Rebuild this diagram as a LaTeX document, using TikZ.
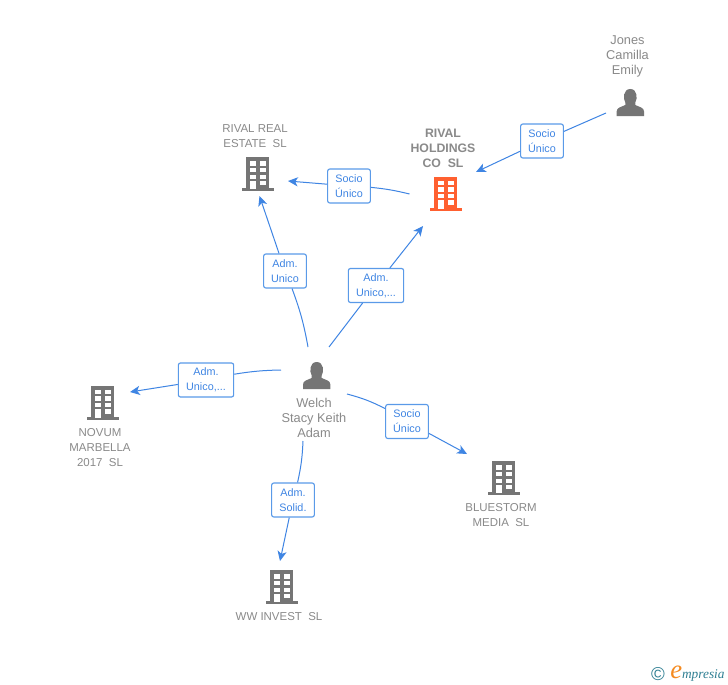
\documentclass[tikz,border=0pt]{standalone}
\usepackage{fontspec}
\setmainfont{Liberation Sans}
\newfontfamily\logofont{Liberation Serif}
\usetikzlibrary{arrows.meta}
\usetikzlibrary{positioning}
\definecolor{linkblue}{HTML}{3F85E3}
\definecolor{boxblue}{HTML}{5A9AE8}
\definecolor{textgray}{HTML}{8A8A8A}
\definecolor{icongray}{HTML}{757575}
\definecolor{rivalred}{HTML}{FF6030}
\definecolor{logoteal}{HTML}{2F7F93}
\definecolor{logoorange}{HTML}{F58A1F}
\tikzset{>={Stealth[length=2.6mm,width=2.4mm,inset=0.7mm]}}
\tikzset{
    namelabel/.style={text=textgray, align=center, inner sep=0pt, font=\fontsize{8.6}{11.25}\selectfont},
    personlabel/.style={namelabel, font=\fontsize{9.6}{11.25}\selectfont},
    rolebox/.style={draw=boxblue, fill=white, line width=0.85pt, rounded corners=1.6pt, text=linkblue, align=center,
        inner sep=0pt, minimum height=25.5pt, font=\fontsize{8.1}{11.25}\selectfont},
    link/.style={draw=linkblue, line width=0.75pt},
}
% building icon: [colour](centre)
\def\companyicon[#1](#2){
    \begin{scope}[shift={(#2)}]
        \fill[#1] (-11.5,-17) rectangle (11.5,15);
        \fill[#1] (-16,14) rectangle (16,17);
        \foreach \py in {-12.8,-6.2,0.5} {
            \fill[white] (-7.7,\py) rectangle (-2,\py+4.4);
            \fill[white] (2,\py) rectangle (8,\py+4.4);
        }
        \fill[white] (-7.7,6.8) rectangle (-2,15);
        \fill[white] (2,6.8) rectangle (8,11);
    \end{scope}
}
% person icon: (centre)
\def\personicon(#1){
    \begin{scope}[shift={(#1)}]
        \fill[icongray] (-13.7,13.5) -- (-13.7,9) .. controls (-13.7,5) and (-9,4.5) .. (-5,2.5) .. controls (-4.5,1.5) and (-4.5,1) .. (-5,0)
            .. controls (-7.5,-4) and (-7,-13.5) .. (0,-13.5) .. controls (7,-13.5) and (7.5,-4) .. (5,0)
            .. controls (4.5,1) and (4.5,1.5) .. (5,2.5) .. controls (9,4.5) and (13.7,5) .. (13.7,9) -- (13.7,13.5) -- cycle;
    \end{scope}
}
\begin{document}
\begin{tikzpicture}[x=0.75pt,y=-0.75pt]
	\useasboundingbox[fill=white] (0,0) rectangle (728,685);
	% icons
	\personicon(630.3,102.5)
	\personicon(316.7,375.5)
	\companyicon[rivalred](445.5,193.5)
	\companyicon[icongray](257.5,174)
	\companyicon[icongray](102.5,402.5)
	\companyicon[icongray](503.5,478)
	\companyicon[icongray](281.5,587)
	% names
	\node[personlabel] (jones) at (627.5,56) {Jones\\Camilla\\Emily};
	\node[personlabel] (welch) at (314,418) {Welch\\Stacy Keith\\Adam};
	\node[namelabel, font=\bfseries\fontsize{9.2}{11.25}\selectfont] (holdings) at (443,148) {RIVAL\\HOLDINGS\\CO\ \ SL};
	\node[namelabel] (realestate) at (255,136.5) {RIVAL REAL\\ESTATE\ \ SL};
	\node[namelabel] (novum) at (100,448) {NOVUM\\MARBELLA\\2017\ \ SL};
	\node[namelabel] (bluestorm) at (501,515.5) {BLUESTORM\\MEDIA\ \ SL};
	\node[namelabel] (wwinvest) at (279,617) {WW INVEST\ \ SL};
	% free ends
	\coordinate (jonesout) at (606,113);
	\coordinate (holdingsin) at (476,172);
	\coordinate (holdingsout) at (409.5,194);
	\coordinate (realin) at (288,181);
	\coordinate (welchup) at (308,347);
	\coordinate (realinb) at (259.5,196);
	\coordinate (welchright) at (329,347);
	\coordinate (holdingsinb) at (423,226);
	\coordinate (welchleft) at (281,370);
	\coordinate (novumin) at (130,392);
	\coordinate (welchout) at (347,394);
	\coordinate (bluein) at (467,454);
	\coordinate (welchdown) at (303,441);
	\coordinate (wwin) at (280,561);
	% role boxes
	\node[rolebox, minimum width=32pt] (rolejones) at (542,141) {Socio\\Único};
	\node[rolebox, minimum width=32pt] (roleholdings) at (349,186) {Socio\\Único};
	\node[rolebox, minimum width=32pt] (rolereal) at (285,271) {Adm.\\Unico};
	\node[rolebox, minimum width=41.5pt] (roleright) at (376,285.5) {Adm.\\Unico,...};
	\node[rolebox, minimum width=41.5pt] (roleleft) at (206,380) {Adm.\\Unico,...};
	\node[rolebox, minimum width=32pt] (roleblue) at (407,421.5) {Socio\\Único};
	\node[rolebox, minimum width=32pt] (rolesolid) at (293,500) {Adm.\\Solid.};
	% connectors
	\draw[link] (jonesout) -- (rolejones);
	\draw[link, ->] (rolejones) -- (holdingsin);
	\draw[link] (holdingsout) to[bend right=4] (roleholdings);
	\draw[link, ->] (roleholdings) -- (realin);
	\draw[link] (welchup) to[bend right=5] (rolereal);
	\draw[link, ->] (rolereal) -- (realinb);
	\draw[link] (welchright) -- (roleright);
	\draw[link, ->] (roleright) -- (holdingsinb);
	\draw[link] (welchleft) to[bend right=4] (roleleft);
	\draw[link, ->] (roleleft) -- (novumin);
	\draw[link] (welchout) to[bend left=6] (roleblue);
	\draw[link, ->] (roleblue) -- (bluein);
	\draw[link] (welchdown) to[bend left=5] (rolesolid);
	\draw[link, ->] (rolesolid) -- (wwin);
	% logo
	\node[text=logoteal, inner sep=0pt, font=\fontsize{14}{14}\selectfont] (logomark) at (658,674) {\textcopyright};
	\node[inner sep=0pt, anchor=base west, text=logoteal, font=\logofont\itshape\fontsize{10}{10}\selectfont] (logotext) at (670,678.5) {{\color{logoorange}\fontsize{20}{20}\selectfont e}mpresia};
\end{tikzpicture}
\end{document}
